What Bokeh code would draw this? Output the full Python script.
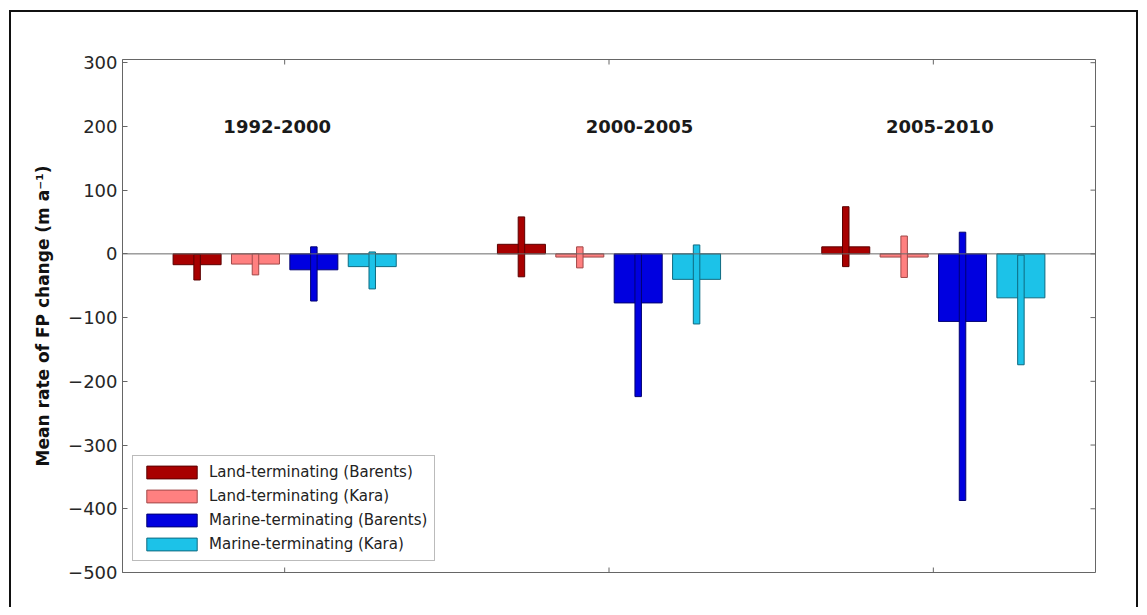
from bokeh.plotting import figure
from bokeh.models import (FixedTicker, Span, Legend, LegendItem,
                          Range1d, ColumnDataSource)
from bokeh.core.properties import value
from bokeh.embed import file_html
from bokeh.resources import INLINE

# ---- data ----
periods = ["1992-2000", "2000-2005", "2005-2010"]
group_pos = [1, 2, 3]
series_names = ["Land-terminating (Barents)", "Land-terminating (Kara)",
                "Marine-terminating (Barents)", "Marine-terminating (Kara)"]
land_barents = [-17, 15, 11]
land_barents_lo = [-41, -36, -20]
land_barents_hi = [-1, 58, 74]
land_kara = [-16, -5, -5]
land_kara_lo = [-33, -22, -37]
land_kara_hi = [0, 11, 28]
marine_barents = [-25, -77, -106]
marine_barents_lo = [-74, -224, -387]
marine_barents_hi = [11, 0, 34]
marine_kara = [-20, -40, -69]
marine_kara_lo = [-55, -110, -174]
marine_kara_hi = [3, 14, -2]
y_ticks = [-500, -400, -300, -200, -100, 0, 100, 200, 300]
label_x = [0.977, 2.094, 3.02]
label_y = [200, 200, 200]

# ---- layout / styles ----
FONT = "DejaVu Sans"
fills = ["#A80000", "#FF8080", "#0000E0", "#1CC2E8"]
edges = ["#5A0000", "#A04848", "#000070", "#0E6A80"]
offsets = [-0.27, -0.09, 0.09, 0.27]
BAR_W = 0.148
ERR_W = 0.02
W, H = 1139, 607
ML, MR, MT, MB = 122, 44, 59, 35
X0, X1 = 0.5, 3.5
Y0, Y1 = -500, 305
TICK_PX = 5
tick_dy = TICK_PX * (Y1 - Y0) / (H - MT - MB)
tick_dx = TICK_PX * (X1 - X0) / (W - ML - MR)

p = figure(width=W, height=H, x_range=Range1d(X0, X1),
           y_range=Range1d(Y0, Y1), output_backend="svg",
           toolbar_location=None, min_border_left=ML, min_border_right=MR,
           min_border_top=MT, min_border_bottom=MB)
# outer black frame (left, top, right) painted behind a transparent border
p.styles = {
    "background-color": "white",
    "background-image": ("linear-gradient(#111,#111), "
                         "linear-gradient(#111,#111), "
                         "linear-gradient(#111,#111)"),
    "background-size": "2px 100%, 1129px 2px, 2px 100%",
    "background-position": "9px 10px, 9px 10px, 1136px 10px",
    "background-repeat": "no-repeat",
}
p.border_fill_alpha = 0
p.background_fill_color = "white"
p.xgrid.visible = False
p.ygrid.visible = False
p.outline_line_color = "#666666"

# zero line
p.add_layout(Span(location=0, dimension="width", line_color="#6a6a6a",
                  line_width=1))

vals = [land_barents, land_kara, marine_barents, marine_kara]
los = [land_barents_lo, land_kara_lo, marine_barents_lo, marine_kara_lo]
his = [land_barents_hi, land_kara_hi, marine_barents_hi, marine_kara_hi]

bar_renderers = []
for i in range(4):
    xs = [g + offsets[i] for g in group_pos]
    src = ColumnDataSource(dict(x=xs, top=vals[i], bottom=[0] * len(xs),
                                lo=los[i], hi=his[i]))
    r = p.vbar(x="x", top="top", bottom="bottom", width=BAR_W, source=src,
               fill_color=fills[i], line_color=edges[i], line_width=1)
    p.vbar(x="x", top="hi", bottom="lo", width=ERR_W, source=src,
           fill_color=fills[i], line_color=edges[i], line_width=1)
    bar_renderers.append(r)

# inward tick marks on bottom, top and right edges of the box
tick_col = "#666666"
p.segment(x0=group_pos, y0=[Y0] * 3, x1=group_pos, y1=[Y0 + tick_dy] * 3,
          line_color=tick_col, line_width=1)
p.segment(x0=group_pos, y0=[Y1] * 3, x1=group_pos, y1=[Y1 - tick_dy] * 3,
          line_color=tick_col, line_width=1)
p.segment(x0=[X1] * len(y_ticks), y0=y_ticks,
          x1=[X1 - tick_dx] * len(y_ticks), y1=y_ticks,
          line_color=tick_col, line_width=1)

# period labels
p.text(x=label_x, y=label_y, text=periods, text_font=value(FONT),
       text_font_style="bold", text_font_size="18px", text_align="center",
       text_baseline="middle", text_color="#1a1a1a")

# axes
p.xaxis.visible = False
p.yaxis.ticker = FixedTicker(ticks=y_ticks)
p.yaxis.major_tick_in = TICK_PX
p.yaxis.major_tick_out = 0
p.yaxis.minor_tick_line_color = None
p.yaxis.axis_line_color = "#666666"
p.yaxis.major_tick_line_color = "#666666"
p.yaxis.major_label_text_font = FONT
p.yaxis.major_label_text_font_size = "18px"
p.yaxis.major_label_text_color = "#262626"
p.yaxis.major_label_standoff = 5
p.yaxis.axis_label = "Mean rate of FP change (m a\u207b\u00b9)"
p.yaxis.axis_label_text_font = FONT
p.yaxis.axis_label_text_font_style = "bold"
p.yaxis.axis_label_text_font_size = "17px"
p.yaxis.axis_label_text_color = "#111111"
p.yaxis.axis_label_standoff = 12

legend = Legend(items=[LegendItem(label=series_names[i],
                                  renderers=[bar_renderers[i]])
                       for i in range(4)],
                location=(10, 11), glyph_width=63, glyph_height=16,
                label_height=16, spacing=6, padding=7, margin=0,
                label_standoff=6, label_text_font=FONT,
                label_text_font_size="15px", label_text_color="#222222",
                border_line_color="#777777", border_line_width=1,
                background_fill_color="white", background_fill_alpha=1)
p.add_layout(legend)

open("out.html", "w").write(file_html(p, INLINE))
